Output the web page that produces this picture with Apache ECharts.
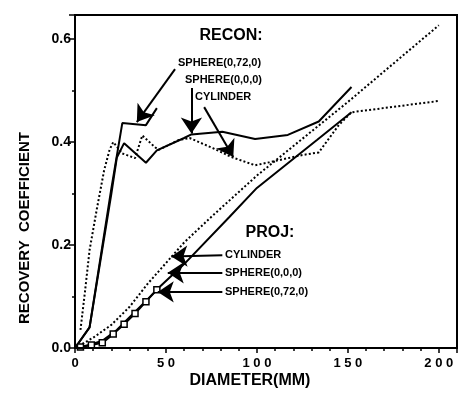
<!DOCTYPE html>
<html><head><meta charset="utf-8">
<script src="https://cdn.jsdelivr.net/npm/echarts@6/dist/echarts.min.js"></script>
<style>html,body{margin:0;padding:0;background:#fff}#c{width:459px;height:403px}</style>
</head><body><div id="c"></div>
<script>
// ---- data (diameter mm, recovery coefficient) ----
const reconSphere72 = [[0,0],[8,0.04],[20,0.31],[26,0.437],[39,0.433],[45,0.466]];
const reconSphere000 = [[0,0],[8,0.04],[20,0.30],[23,0.37],[27,0.398],[39,0.36],[45,0.384],[60,0.408],[64,0.415],[81,0.42],[99,0.406],[117,0.414],[134,0.44],[152,0.507]];
const reconCylinder = [[3,0.035],[5.5,0.11],[8,0.19],[12,0.27],[16,0.345],[19,0.385],[21,0.40],[26,0.378],[33,0.369],[37,0.413],[44,0.39],[46,0.385],[57,0.404],[63,0.408],[76,0.388],[86,0.371],[99,0.355],[107,0.361],[125,0.375],[134,0.38],[145,0.433],[152,0.458],[200,0.48]];
const projCylinder = [[0,0],[10,0.02],[20,0.045],[30,0.08],[40,0.125],[50,0.165],[60,0.205],[75,0.255],[100,0.335],[150,0.478],[200,0.627]];
const projSphere000 = [[0,0],[8,0.006],[15,0.014],[23,0.035],[30,0.06],[40,0.095],[46,0.117],[60,0.163],[85,0.255],[100,0.311],[117,0.359],[133,0.404],[152,0.458]];
const projSphere72 = [[3,0.002],[9,0.006],[15,0.01],[21,0.027],[27,0.046],[33,0.067],[39,0.09],[45,0.113]];
const xTicks = [0,50,100,150,200];
const xTickLabels = ['0','5 0','1 0 0','1 5 0','2 0 0'];
const yTicks = [0,0.2,0.4,0.6];
const yTickLabels = ['0.0','0.2','0.4','0.6'];
const xTitle = 'DIAMETER(MM)';
const yTitle = 'RECOVERY  COEFFICIENT';
const reconHeader = 'RECON:';
const projHeader = 'PROJ:';
const reconLabels = ['SPHERE(0,72,0)','SPHERE(0,0,0)','CYLINDER'];
const projLabels = ['CYLINDER','SPHERE(0,0,0)','SPHERE(0,72,0)'];
const reconArrows = [[[55,0.542],[34,0.439]],[[64,0.505],[64,0.417]],[[71,0.468],[87,0.371]]];
const projArrows = [[[81,0.18],[53,0.178]],[[81,0.146],[51,0.146]],[[81,0.109],[45.5,0.109]]];

const FONT = '"Liberation Sans", Arial, sans-serif';
const chart = echarts.init(document.getElementById('c'), null, {renderer:'canvas'});
const solid = {color:'#000', width:2, type:'solid'};
const dotted = {color:'#000', width:2, type:[2,2.2]};
function arrowData(list){
  return list.map(a => [{coord:a[0]},{coord:a[1]}]);
}
const txt = (t, x, y, size, align) => ({
  type:'text', x, y, silent:true,
  style:{text:t, fill:'#000', font:'bold '+size+'px '+FONT, textAlign:align||'left', textVerticalAlign:'middle', align:align||'left', verticalAlign:'middle'}
});
const G = {left:75, right:2, top:15, bottom:55};
const R = 459 - G.right, B = 403 - G.bottom;

chart.setOption({
  animation:false,
  grid:Object.assign({show:true, borderColor:'#000', borderWidth:2, backgroundColor:'transparent', z:10}, G),
  xAxis:{type:'value', min:0, max:210, interval:50,
    axisLine:{onZero:false, lineStyle:{color:'#000', width:1.5}},
    axisTick:{show:true, length:5, lineStyle:{color:'#000', width:1.5}},
    minorTick:{show:true, splitNumber:5, length:3, lineStyle:{color:'#000', width:1.5}},
    splitLine:{show:false},
    axisLabel:{margin:9, color:'#000', fontFamily:FONT, fontWeight:'bold', fontSize:13, showMaxLabel:false,
      formatter:v=>{const i=xTicks.findIndex(t=>Math.abs(t-v)<1e-6); return i>=0?xTickLabels[i]:'';}}
  },
  yAxis:{type:'value', min:0, max:0.647, interval:0.2,
    axisLine:{onZero:false, lineStyle:{color:'#000', width:1.5}},
    axisTick:{show:true, length:6, lineStyle:{color:'#000', width:1.5}},
    minorTick:{show:true, splitNumber:2, length:3, lineStyle:{color:'#000', width:1.5}},
    splitLine:{show:false},
    axisLabel:{margin:4, color:'#000', fontFamily:FONT, fontWeight:'bold', fontSize:14, showMaxLabel:false,
      formatter:v=>{const i=yTicks.findIndex(t=>Math.abs(t-v)<1e-6); return i>=0?yTickLabels[i]:'';}}
  },
  series:[
    {type:'line', data:reconSphere72, showSymbol:false, lineStyle:solid},
    {type:'line', data:reconSphere000, showSymbol:false, lineStyle:solid,
      markLine:{silent:true, symbol:['none','arrow'], symbolSize:16, label:{show:false},
        lineStyle:{color:'#000', width:2, type:'solid'}, itemStyle:{color:'#000'}, emphasis:{disabled:true},
        data:arrowData(reconArrows.concat(projArrows))}},
    {type:'line', data:reconCylinder, showSymbol:false, lineStyle:dotted},
    {type:'line', data:projCylinder, showSymbol:false, lineStyle:dotted},
    {type:'line', data:projSphere000, showSymbol:false, lineStyle:solid},
    {type:'line', data:projSphere72, symbol:'rect', symbolSize:6, showSymbol:true,
      itemStyle:{color:'#fff', borderColor:'#000', borderWidth:1.5}, lineStyle:solid}
  ],
  graphic:[
    {type:'rect', silent:true, z:100, shape:{x:G.left, y:G.top, width:R-G.left, height:B-G.top},
      style:{fill:'rgba(0,0,0,0)', stroke:'#000', lineWidth:2}},
    txt(reconHeader, 231, 36, 16, 'center'),
    txt(reconLabels[0], 178, 63, 11),
    txt(reconLabels[1], 185, 80, 11),
    txt(reconLabels[2], 195, 97, 11),
    txt(projHeader, 270, 233, 16, 'center'),
    txt(projLabels[0], 225, 255, 11),
    txt(projLabels[1], 225, 273, 11),
    txt(projLabels[2], 225, 292, 11),
    txt(xTitle, 250, 381, 16, 'center'),
    Object.assign(txt(yTitle, 25, 228, 15, 'center'), {rotation:Math.PI/2})
  ]
});
</script></body></html>
